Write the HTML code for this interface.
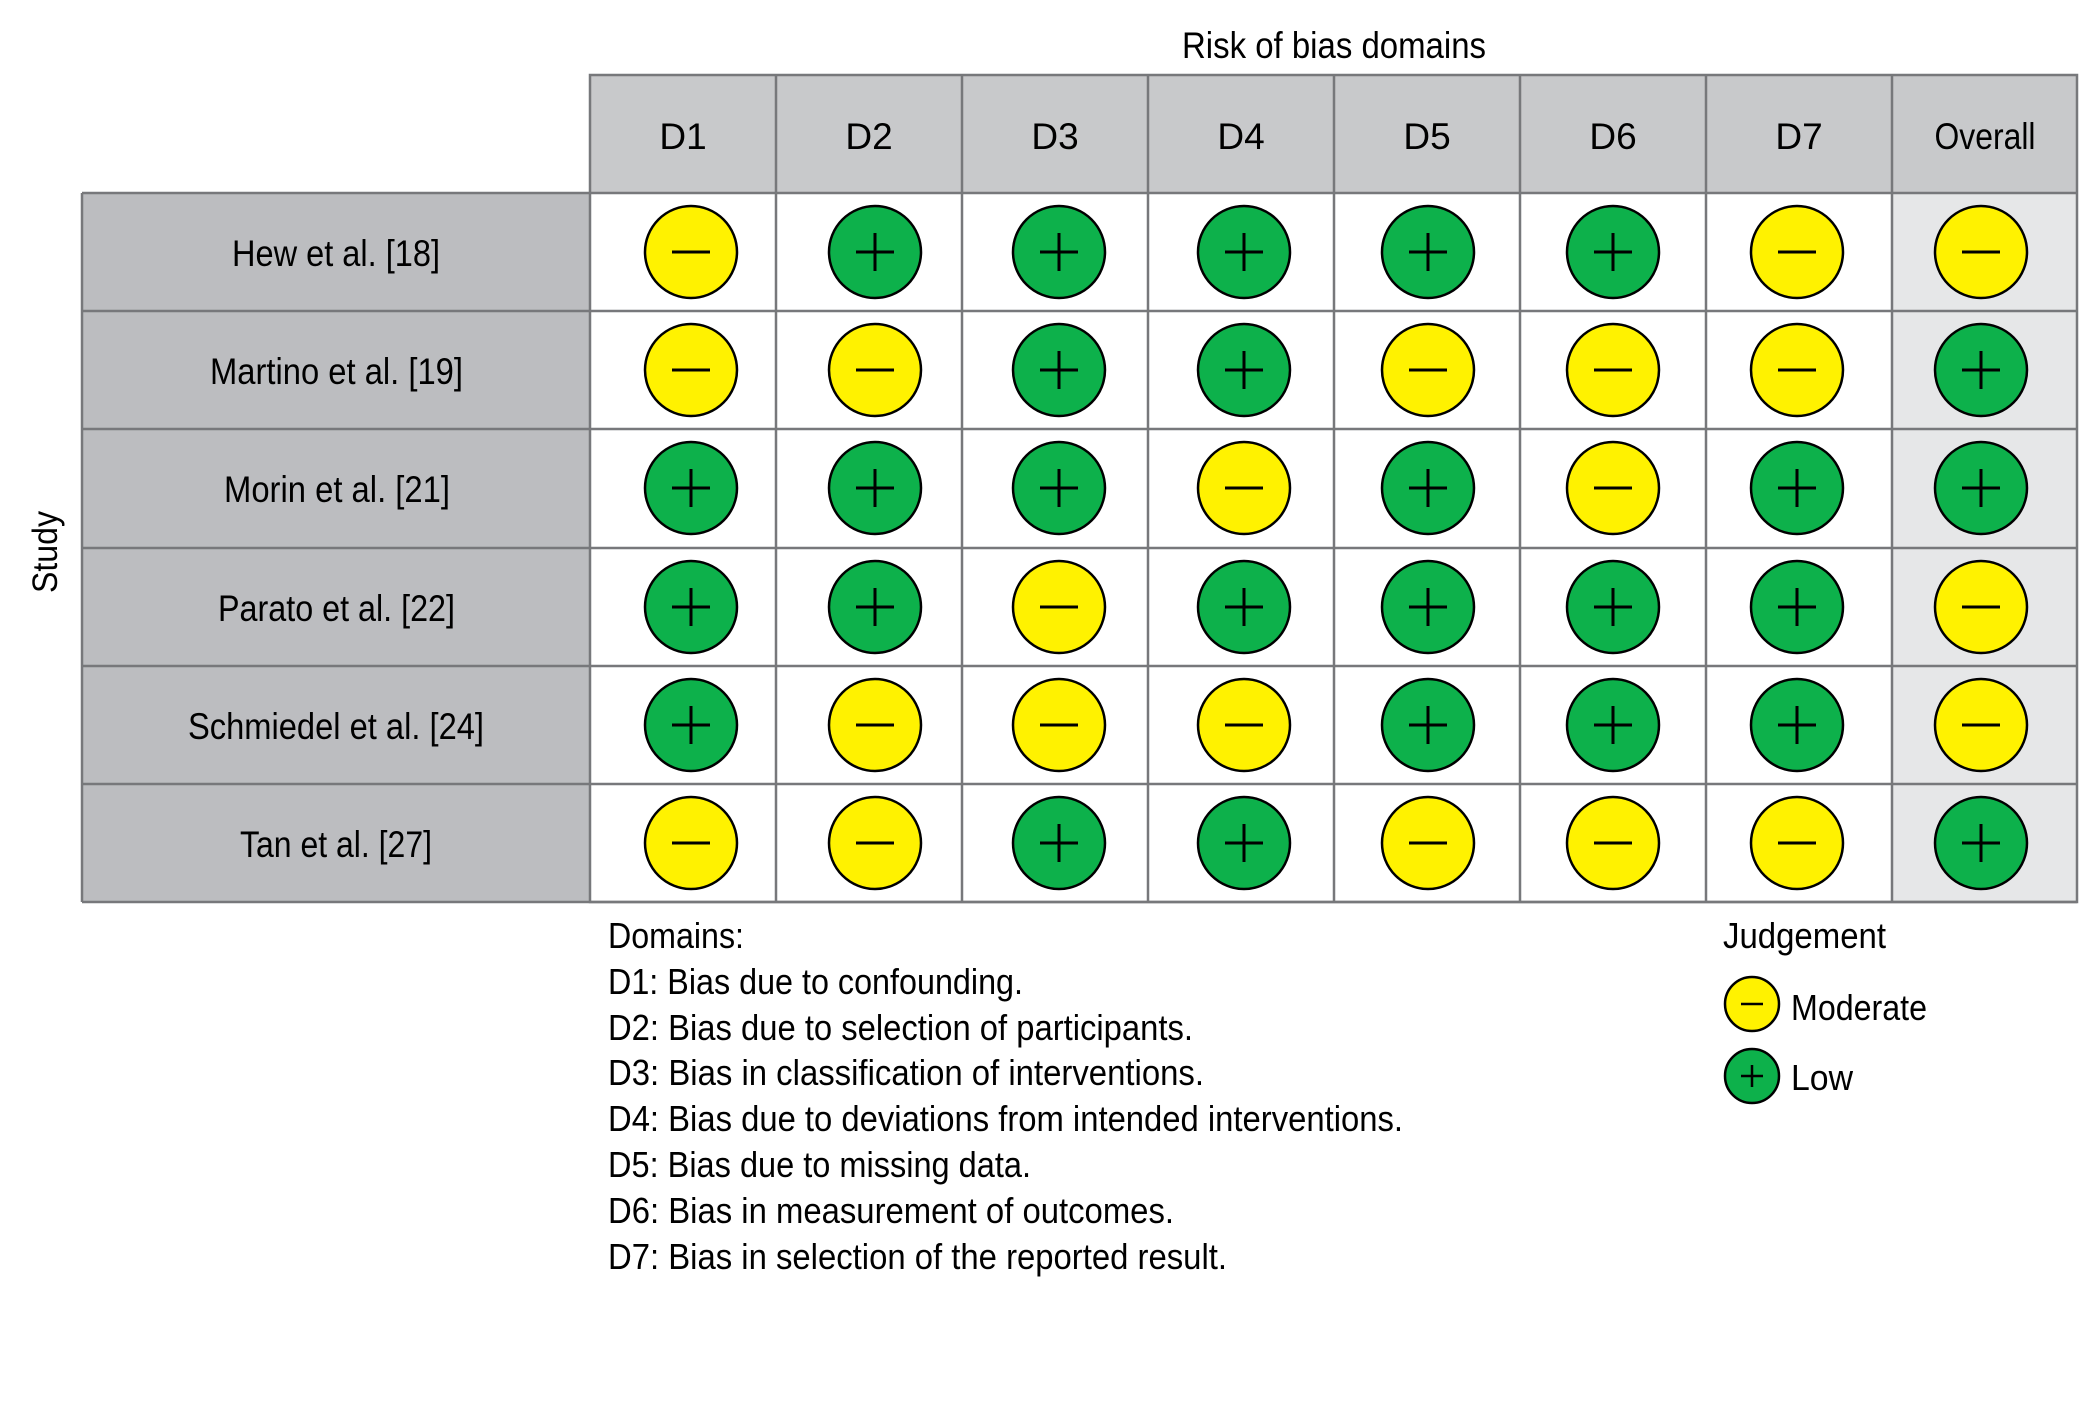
<!DOCTYPE html>
<html><head><meta charset="utf-8"><style>html,body{margin:0;padding:0;background:#fff}svg{display:block}</style></head>
<body>
<svg width="2080" height="1405" viewBox="0 0 2080 1405" xmlns="http://www.w3.org/2000/svg" font-family="'Liberation Sans Narrow','Liberation Sans',sans-serif" fill="#000">
<rect width="2080" height="1405" fill="#fff"/>
<text x="1182" y="58" font-size="37" textLength="304" lengthAdjust="spacingAndGlyphs">Risk of bias domains</text>
<rect x="590" y="75" width="1487" height="118" fill="#c8c9cb"/>
<rect x="82" y="193" width="508" height="709" fill="#bcbdc0"/>
<rect x="1892" y="193" width="185" height="709" fill="#e6e7e8"/>
<g stroke="#77787b" stroke-width="2.5" fill="none">
<rect x="590" y="75" width="1487" height="827"/>
<line x1="82" y1="193" x2="2077" y2="193"/>
<line x1="82" y1="311" x2="2077" y2="311"/>
<line x1="82" y1="429" x2="2077" y2="429"/>
<line x1="82" y1="548" x2="2077" y2="548"/>
<line x1="82" y1="666" x2="2077" y2="666"/>
<line x1="82" y1="784" x2="2077" y2="784"/>
<line x1="82" y1="902" x2="2077" y2="902"/>
<line x1="82" y1="193" x2="82" y2="902"/>
<line x1="776" y1="75" x2="776" y2="902"/>
<line x1="962" y1="75" x2="962" y2="902"/>
<line x1="1148" y1="75" x2="1148" y2="902"/>
<line x1="1334" y1="75" x2="1334" y2="902"/>
<line x1="1520" y1="75" x2="1520" y2="902"/>
<line x1="1706" y1="75" x2="1706" y2="902"/>
<line x1="1892" y1="75" x2="1892" y2="902"/>
</g>
<g font-size="37" text-anchor="middle">
<text x="683" y="149">D1</text><text x="869" y="149">D2</text><text x="1055" y="149">D3</text><text x="1241" y="149">D4</text><text x="1427" y="149">D5</text><text x="1613" y="149">D6</text><text x="1799" y="149">D7</text>
<text x="1985" y="149" textLength="101" lengthAdjust="spacingAndGlyphs">Overall</text>
</g>
<g font-size="37">
<text x="232" y="266" textLength="208" lengthAdjust="spacingAndGlyphs">Hew et al. [18]</text>
<text x="210" y="384" textLength="253" lengthAdjust="spacingAndGlyphs">Martino et al. [19]</text>
<text x="224" y="502" textLength="226" lengthAdjust="spacingAndGlyphs">Morin et al. [21]</text>
<text x="218" y="621" textLength="237" lengthAdjust="spacingAndGlyphs">Parato et al. [22]</text>
<text x="188" y="739" textLength="296" lengthAdjust="spacingAndGlyphs">Schmiedel et al. [24]</text>
<text x="240" y="857" textLength="192" lengthAdjust="spacingAndGlyphs">Tan et al. [27]</text>
</g>
<text transform="translate(57,593) rotate(-90)" font-size="35" textLength="82" lengthAdjust="spacingAndGlyphs">Study</text>
<defs>
<g id="M"><circle r="46" fill="#fff200" stroke="#000" stroke-width="2.5"/><line x1="-19" y1="0" x2="19" y2="0" stroke="#000" stroke-width="3"/></g>
<g id="P"><circle r="46" fill="#0db14b" stroke="#000" stroke-width="2.5"/><line x1="-19" y1="0" x2="19" y2="0" stroke="#000" stroke-width="3"/><line x1="0" y1="-19" x2="0" y2="19" stroke="#000" stroke-width="3"/></g>
<g id="Ms"><circle r="27" fill="#fff200" stroke="#000" stroke-width="2.5"/><line x1="-11" y1="0" x2="11" y2="0" stroke="#000" stroke-width="2.5"/></g>
<g id="Ps"><circle r="27" fill="#0db14b" stroke="#000" stroke-width="2.5"/><line x1="-11" y1="0" x2="11" y2="0" stroke="#000" stroke-width="2.5"/><line x1="0" y1="-11" x2="0" y2="11" stroke="#000" stroke-width="2.5"/></g>
</defs>
<use href="#M" x="691" y="252"/><use href="#P" x="875" y="252"/><use href="#P" x="1059" y="252"/><use href="#P" x="1244" y="252"/><use href="#P" x="1428" y="252"/><use href="#P" x="1613" y="252"/><use href="#M" x="1797" y="252"/><use href="#M" x="1981" y="252"/>
<use href="#M" x="691" y="370"/><use href="#M" x="875" y="370"/><use href="#P" x="1059" y="370"/><use href="#P" x="1244" y="370"/><use href="#M" x="1428" y="370"/><use href="#M" x="1613" y="370"/><use href="#M" x="1797" y="370"/><use href="#P" x="1981" y="370"/>
<use href="#P" x="691" y="488"/><use href="#P" x="875" y="488"/><use href="#P" x="1059" y="488"/><use href="#M" x="1244" y="488"/><use href="#P" x="1428" y="488"/><use href="#M" x="1613" y="488"/><use href="#P" x="1797" y="488"/><use href="#P" x="1981" y="488"/>
<use href="#P" x="691" y="607"/><use href="#P" x="875" y="607"/><use href="#M" x="1059" y="607"/><use href="#P" x="1244" y="607"/><use href="#P" x="1428" y="607"/><use href="#P" x="1613" y="607"/><use href="#P" x="1797" y="607"/><use href="#M" x="1981" y="607"/>
<use href="#P" x="691" y="725"/><use href="#M" x="875" y="725"/><use href="#M" x="1059" y="725"/><use href="#M" x="1244" y="725"/><use href="#P" x="1428" y="725"/><use href="#P" x="1613" y="725"/><use href="#P" x="1797" y="725"/><use href="#M" x="1981" y="725"/>
<use href="#M" x="691" y="843"/><use href="#M" x="875" y="843"/><use href="#P" x="1059" y="843"/><use href="#P" x="1244" y="843"/><use href="#M" x="1428" y="843"/><use href="#M" x="1613" y="843"/><use href="#M" x="1797" y="843"/><use href="#P" x="1981" y="843"/>
<g font-size="36">
<text x="608" y="948" textLength="136" lengthAdjust="spacingAndGlyphs">Domains:</text>
<text x="608" y="994" textLength="415" lengthAdjust="spacingAndGlyphs">D1: Bias due to confounding.</text>
<text x="608" y="1040" textLength="585" lengthAdjust="spacingAndGlyphs">D2: Bias due to selection of participants.</text>
<text x="608" y="1085" textLength="596" lengthAdjust="spacingAndGlyphs">D3: Bias in classification of interventions.</text>
<text x="608" y="1131" textLength="795" lengthAdjust="spacingAndGlyphs">D4: Bias due to deviations from intended interventions.</text>
<text x="608" y="1177" textLength="423" lengthAdjust="spacingAndGlyphs">D5: Bias due to missing data.</text>
<text x="608" y="1223" textLength="566" lengthAdjust="spacingAndGlyphs">D6: Bias in measurement of outcomes.</text>
<text x="608" y="1269" textLength="619" lengthAdjust="spacingAndGlyphs">D7: Bias in selection of the reported result.</text>
<text x="1723" y="948" textLength="163" lengthAdjust="spacingAndGlyphs">Judgement</text>
<text x="1791" y="1020" textLength="136" lengthAdjust="spacingAndGlyphs">Moderate</text>
<text x="1791" y="1090" textLength="62" lengthAdjust="spacingAndGlyphs">Low</text>
</g>
<use href="#Ms" x="1752" y="1004"/>
<use href="#Ps" x="1752" y="1076"/>
</svg>
</body></html>
